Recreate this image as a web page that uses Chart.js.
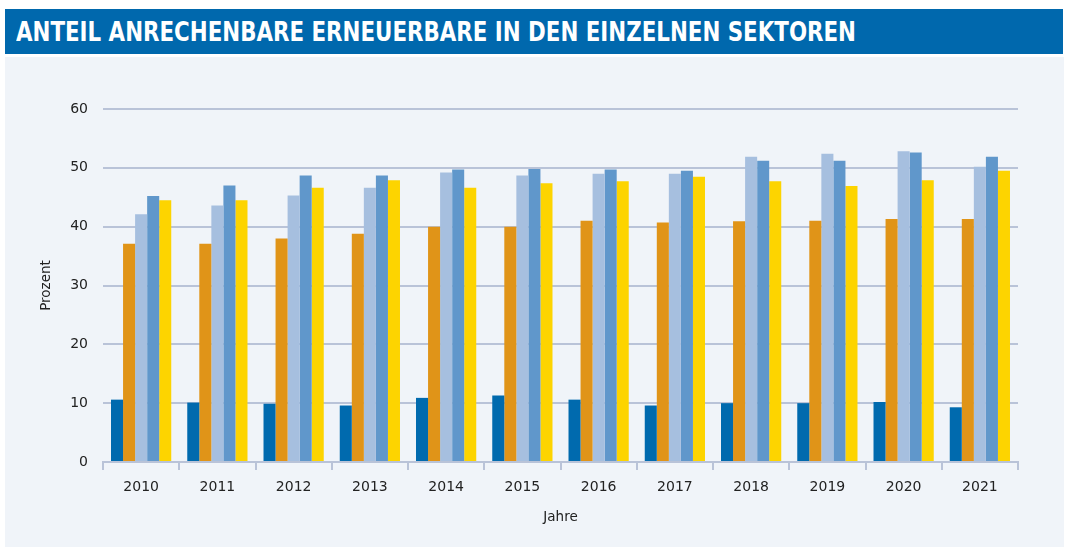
<!DOCTYPE html>
<html>
<head>
<meta charset="utf-8">
<script src="https://cdn.jsdelivr.net/npm/chart.js@4"></script>
<style>
  html, body { margin: 0; padding: 0; background: #ffffff; width: 1069px; height: 547px; overflow: hidden; }
  #title { position: absolute; left: 5px; top: 9px; width: 1058px; height: 45px; background: #0068ad;
           color: #ffffff; font-family: "Liberation Sans Narrow", "DejaVu Sans Condensed", "Liberation Sans", sans-serif;
           font-weight: bold; font-size: 27px; line-height: 45px; padding-left: 0; box-sizing: border-box; }
  #title span { position: absolute; left: 11px; top: 0; white-space: nowrap; }
  #panel { position: absolute; left: 5px; top: 57px; width: 1059px; height: 490px; background: #f0f4f9; }
  #c { position: absolute; left: 0; top: 0; }
</style>
</head>
<body>
<div id="title"><span id="tt">ANTEIL ANRECHENBARE ERNEUERBARE IN DEN EINZELNEN SEKTOREN</span></div>
<div id="panel"><canvas id="c" width="1059" height="490"></canvas></div>
<script>
const years = ["2010","2011","2012","2013","2014","2015","2016","2017","2018","2019","2020","2021"];
const seriesA = [10.6, 10.1, 9.9, 9.6, 10.9, 11.3, 10.6, 9.6, 10.0, 10.0, 10.2, 9.3];
const seriesB = [37.1, 37.1, 38.0, 38.8, 40.0, 40.0, 41.0, 40.7, 40.9, 41.0, 41.3, 41.3];
const seriesC = [42.1, 43.6, 45.3, 46.6, 49.2, 48.7, 49.0, 49.0, 51.9, 52.4, 52.8, 50.2];
const seriesD = [45.2, 47.0, 48.7, 48.7, 49.7, 49.8, 49.7, 49.5, 51.2, 51.2, 52.6, 51.9];
const seriesE = [44.5, 44.5, 46.6, 47.9, 46.6, 47.4, 47.7, 48.5, 47.7, 46.9, 47.9, 49.5];
const yTicks = [0, 10, 20, 30, 40, 50, 60];

// fit title width
(function(){
  const s = document.getElementById('tt');
  const target = 840;
  const w = s.getBoundingClientRect().width;
  if (w > 0) { s.style.transform = 'scaleX(' + (target / w) + ')'; s.style.transformOrigin = 'left center'; }
})();

const gridCol = '#b9c3d8';
const font = { family: '"DejaVu Sans", "Liberation Sans", sans-serif', size: 14 };
const tfont = { family: '"DejaVu Sans", "Liberation Sans", sans-serif', size: 13.5 };
const mk = (label, data, color) => ({ label, data, backgroundColor: color, borderWidth: 0, categoryPercentage: 0.79, barPercentage: 1.0 });

new Chart(document.getElementById('c'), {
  type: 'bar',
  data: {
    labels: years,
    datasets: [
      mk('A', seriesA, '#006aae'),
      mk('B', seriesB, '#e09418'),
      mk('C', seriesC, '#a6bfdf'),
      mk('D', seriesD, '#6097cb'),
      mk('E', seriesE, '#fdd400')
    ]
  },
  options: {
    responsive: false,
    animation: false,
    layout: { padding: { left: 0, right: 46, top: 52, bottom: 0 } },
    plugins: { legend: { display: false }, tooltip: { enabled: false } },
    scales: {
      x: {
        grid: { offset: true, drawOnChartArea: false, drawTicks: true, tickLength: 8, color: gridCol, lineWidth: 2 },
        border: { display: true, color: gridCol, width: 2 },
        ticks: { color: '#222222', font: font, padding: 9 },
        title: { display: true, text: 'Jahre', color: '#222222', font: tfont, padding: { top: 10, bottom: 21 } },
        afterFit: (s) => { s.height = 85; }
      },
      y: {
        min: 0, max: 60,
        afterBuildTicks: (s) => { s.ticks = yTicks.map(v => ({ value: v })); },
        grid: { color: gridCol, lineWidth: 2, drawTicks: false },
        border: { display: false },
        ticks: { color: '#222222', font: font, padding: 15 },
        title: { display: true, text: 'Prozent', color: '#222222', font: tfont, padding: { top: 33, bottom: 0 } },
        afterFit: (s) => { s.width = 98; }
      }
    }
  }
});
</script>
</body>
</html>
